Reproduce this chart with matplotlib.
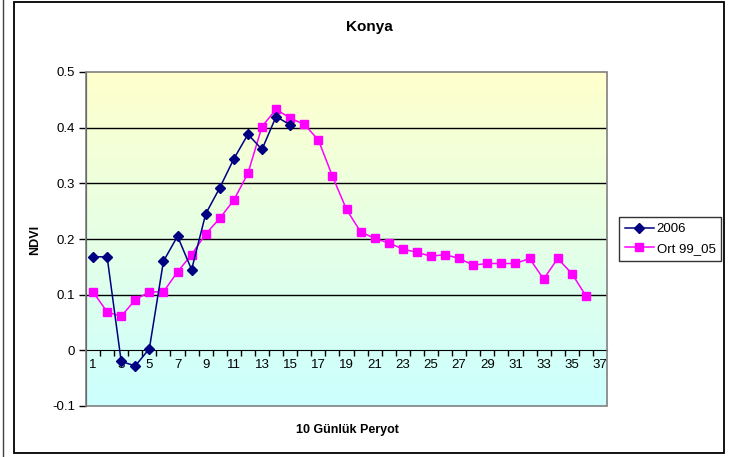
import matplotlib
matplotlib.use("Agg")
import matplotlib.pyplot as plt
import numpy as np
from matplotlib.lines import Line2D
from matplotlib.patches import Rectangle
from matplotlib.colors import LinearSegmentedColormap

plt.rcParams['font.family'] = ['Liberation Sans', 'DejaVu Sans']

title = "Konya"
xlabel = "10 Günlük Peryot"
ylabel = "NDVI"
periods = list(range(1, 38))
s2006_name = "2006"
s2006 = [0.168, 0.168, -0.020, -0.028, 0.003, 0.160, 0.205, 0.145, 0.245, 0.292,
         0.344, 0.388, 0.361, 0.420, 0.405]
ort_name = "Ort 99_05"
ort = [0.105, 0.069, 0.061, 0.091, 0.105, 0.105, 0.141, 0.172, 0.209, 0.237,
       0.270, 0.318, 0.402, 0.433, 0.417, 0.406, 0.378, 0.313, 0.253, 0.213,
       0.201, 0.193, 0.182, 0.176, 0.169, 0.172, 0.165, 0.153, 0.156, 0.156,
       0.156, 0.165, 0.128, 0.165, 0.138, 0.098]
yticks = [-0.1, 0, 0.1, 0.2, 0.3, 0.4, 0.5]
xticklabels = list(range(1, 38, 2))

W, H = 730, 457
fig = plt.figure(figsize=(W / 100, H / 100), dpi=100)
fig.patch.set_facecolor('white')

L, R, T, B = 86, 607, 72, 406
ax = fig.add_axes([L / W, 1 - B / H, (R - L) / W, (B - T) / H])
ax.set_xlim(0.5, 37.5)
ax.set_ylim(-0.1, 0.5)

# gradient background
cmap = LinearSegmentedColormap.from_list('bg', ['#CCFFFF', '#FFFFCC'])
grad = np.linspace(0, 1, 256).reshape(-1, 1)
ax.imshow(grad, cmap=cmap, aspect='auto', extent=[0, 1, 0, 1],
          transform=ax.transAxes, origin='lower', zorder=0)

for yv in yticks:
    if yv not in (0, -0.1, 0.5):
        ax.axhline(yv, color='black', lw=1, zorder=1)

ax.plot(periods[:len(s2006)], s2006, color='#000080', marker='D', ms=4.8,
        lw=1.1, zorder=3, label=s2006_name)
ax.plot(periods[:len(ort)], ort, color='#FF00FF', marker='s', ms=5.3,
        lw=1.1, zorder=2, label=ort_name)

for sp in ['top', 'right']:
    ax.spines[sp].set_visible(False)
ax.spines['left'].set_color('black')
ax.spines['bottom'].set_position(('data', 0))
ax.spines['bottom'].set_color('black')
ax.add_patch(Rectangle((0, 0), 1, 1, transform=ax.transAxes, fill=False,
                       edgecolor='#808080', lw=1.2, zorder=4, clip_on=False))

ax.set_yticks(yticks)
ax.set_yticklabels(['-0.1', '0', '0.1', '0.2', '0.3', '0.4', '0.5'], fontsize=9.5)
ax.tick_params(axis='y', direction='out', length=5, width=1, pad=3)

ax.set_xticks(np.arange(1.5, 37.5, 1))
ax.set_xticklabels([])
ax.tick_params(axis='x', which='major', direction='out', length=4, width=1)
ax.set_xticks(xticklabels, minor=True)
ax.set_xticklabels([str(v) for v in xticklabels], minor=True, fontsize=9.5)
ax.tick_params(axis='x', which='minor', length=0, pad=6)

fig.text(369 / W, 1 - 27 / H, title, ha='center', va='center',
         fontsize=11, fontweight='bold')
fig.text(35 / W, 1 - 240 / H, ylabel, ha='center', va='center',
         rotation=90, fontsize=9, fontweight='bold')
fig.text(347 / W, 1 - 430 / H, xlabel, ha='center', va='center',
         fontsize=9, fontweight='bold')

handles = [Line2D([], [], color='#000080', marker='D', ms=4.8, lw=1.1),
           Line2D([], [], color='#FF00FF', marker='s', ms=5.3, lw=1.1)]
leg = fig.legend(handles, [s2006_name, ort_name], loc='upper left',
                 bbox_to_anchor=(619 / W, 1 - 217 / H), fontsize=9.5,
                 frameon=True, fancybox=False, edgecolor='black',
                 handlelength=2.2, handletextpad=0.2, borderpad=0.45,
                 borderaxespad=0, labelspacing=0.55)
leg._legend_box.align = 'left'
leg.get_frame().set_linewidth(1)

# outer chart frame
fig.add_artist(Rectangle((14 / W, 1 - 453 / H), (724 - 14) / W, (453 - 1.5) / H,
                         transform=fig.transFigure, fill=False,
                         edgecolor='black', lw=1.3))
fig.add_artist(Line2D([3 / W, 3 / W], [0, 1], transform=fig.transFigure,
                      color='#404040', lw=1))

fig.savefig('out.png', dpi=100)
